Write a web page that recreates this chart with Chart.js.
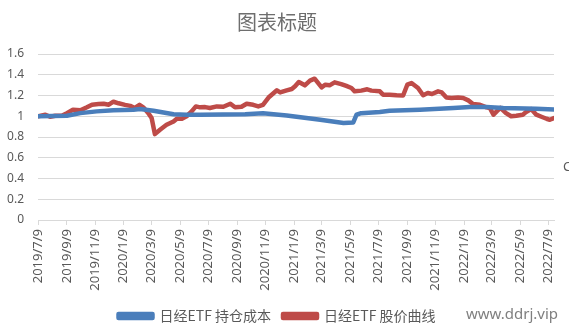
<!DOCTYPE html>
<html lang="zh">
<head>
    <meta charset="UTF-8">
    <title>图表标题</title>
    <script src="https://cdn.jsdelivr.net/npm/chart.js"></script>
    <style>
        body { margin: 0; background: #fff; }
        .wrap { width: 569px; height: 333px; position: relative; }
    </style>
</head>
<body>
    <div class="wrap"><canvas id="etfChart"></canvas></div>

    <script>
// tick labels along the date axis (every two months)
const tickDates = ['2019/7/9', '2019/9/9', '2019/11/9', '2020/1/9', '2020/3/9', '2020/5/9', '2020/7/9',
    '2020/9/9', '2020/11/9', '2021/1/9', '2021/3/9', '2021/5/9', '2021/7/9', '2021/9/9', '2021/11/9',
    '2022/1/9', '2022/3/9', '2022/5/9', '2022/7/9'];
const lastDate = '2022/7/21';

// 日经ETF 持仓成本
const costDates = ['2019/7/9', '2019/9/9', '2019/10/8', '2019/11/12', '2019/12/18', '2020/1/30', '2020/2/13',
    '2020/3/13', '2020/4/25', '2020/5/23', '2020/6/21', '2020/9/26', '2020/11/3', '2020/12/24', '2021/3/6',
    '2021/4/25', '2021/5/16', '2021/5/23', '2021/6/2', '2021/7/12', '2021/8/2', '2021/10/6', '2021/12/17',
    '2022/1/21', '2022/2/26', '2022/4/3', '2022/6/13', '2022/7/21'];
const costValues = [1.0, 1.005, 1.03, 1.047, 1.057, 1.063, 1.07, 1.053, 1.02, 1.015, 1.015, 1.02, 1.03, 1.008,
    0.966, 0.934, 0.94, 1.015, 1.03, 1.04, 1.053, 1.063, 1.08, 1.089, 1.089, 1.08, 1.073, 1.065];

// 日经ETF 股价曲线
const priceDates = ['2019/7/9', '2019/7/25', '2019/8/4', '2019/8/15', '2019/8/29', '2019/9/9', '2019/9/22',
    '2019/10/8', '2019/10/22', '2019/11/2', '2019/11/16', '2019/11/27', '2019/12/8', '2019/12/18', '2019/12/29',
    '2020/1/12', '2020/1/23', '2020/2/2', '2020/2/12', '2020/2/20', '2020/3/2', '2020/3/9', '2020/3/16',
    '2020/3/27', '2020/4/10', '2020/4/25', '2020/5/2', '2020/5/13', '2020/5/23', '2020/6/3', '2020/6/12',
    '2020/6/21', '2020/7/2', '2020/7/12', '2020/7/27', '2020/8/10', '2020/8/25', '2020/9/4', '2020/9/18',
    '2020/9/29', '2020/10/13', '2020/10/24', '2020/11/3', '2020/11/15', '2020/12/3', '2020/12/10', '2020/12/24',
    '2021/1/4', '2021/1/11', '2021/1/19', '2021/2/1', '2021/2/12', '2021/2/22', '2021/3/9', '2021/3/17',
    '2021/3/26', '2021/4/6', '2021/4/20', '2021/5/1', '2021/5/12', '2021/5/19', '2021/6/2', '2021/6/15',
    '2021/6/24', '2021/7/12', '2021/7/19', '2021/8/2', '2021/8/17', '2021/8/31', '2021/9/9', '2021/9/18',
    '2021/10/2', '2021/10/13', '2021/10/23', '2021/11/1', '2021/11/14', '2021/11/22', '2021/12/2', '2021/12/13',
    '2021/12/27', '2022/1/7', '2022/1/18', '2022/1/28', '2022/2/12', '2022/2/26', '2022/3/5', '2022/3/13',
    '2022/3/20', '2022/3/28', '2022/4/9', '2022/4/20', '2022/5/1', '2022/5/15', '2022/5/22', '2022/6/2',
    '2022/6/13', '2022/6/24', '2022/7/5', '2022/7/12', '2022/7/21'];
const priceValues = [1.00, 1.015, 0.995, 1.005, 1.005, 1.03, 1.063, 1.057, 1.086, 1.111, 1.117, 1.121, 1.111,
    1.14, 1.125,
    1.11, 1.10, 1.08, 1.11, 1.086, 1.03, 0.983, 0.828, 0.87, 0.918, 0.95, 0.976, 0.976, 1.0, 1.047, 1.095,
    1.086, 1.088, 1.08, 1.095, 1.092, 1.121, 1.086, 1.092, 1.121, 1.11, 1.095, 1.11, 1.18, 1.25, 1.23, 1.25,
    1.263, 1.289, 1.33, 1.298, 1.343, 1.362, 1.279, 1.304, 1.298, 1.327, 1.31, 1.292, 1.272, 1.24, 1.247, 1.26,
    1.247, 1.24, 1.208, 1.208, 1.202, 1.20, 1.304, 1.32, 1.272, 1.202, 1.224, 1.215, 1.24, 1.23, 1.18, 1.176, 1.18,
    1.176, 1.153, 1.118, 1.111, 1.086, 1.08, 1.015, 1.047, 1.08, 1.03, 1.0, 1.005, 1.015, 1.04, 1.07, 1.015,
    0.995, 0.976, 0.966, 0.983];

const BLUE = '#4A7EBB';
const RED = '#BE4B48';
const TEXT = '#595959';
const GRID = '#D9D9D9';

// days since the first tick date
function dayOf(s) {
    const p = s.split('/').map(Number);
    const p0 = tickDates[0].split('/').map(Number);
    return (Date.UTC(p[0], p[1] - 1, p[2]) - Date.UTC(p0[0], p0[1] - 1, p0[2])) / 86400000;
}

function toPoints(dates, values) {
    return dates.map((d, i) => ({ x: dayOf(d), y: values[i] }));
}

Chart.defaults.font.family = '"Noto Sans", "Noto Sans CJK SC", sans-serif';
Chart.defaults.color = TEXT;

const watermark = {
    id: 'watermark',
    afterDraw(chart) {
        const ctx = chart.ctx;
        ctx.save();
        ctx.fillStyle = '#7F7F7F';
        ctx.font = '15px "Noto Sans", sans-serif';
        ctx.textAlign = 'center';
        ctx.textBaseline = 'middle';
        ctx.fillText('www.ddrj.vip', 512, 315);
        ctx.fillStyle = TEXT;
        ctx.font = '13px "Noto Sans", sans-serif';
        ctx.textAlign = 'left';
        ctx.fillText('C', 563, 167);
        ctx.restore();
    }
};

new Chart(document.getElementById('etfChart'), {
    type: 'line',
    data: {
        datasets: [{
            label: '日经ETF 持仓成本',
            data: toPoints(costDates, costValues),
            borderColor: BLUE,
            backgroundColor: BLUE,
            borderWidth: 4.5,
            pointRadius: 0,
            borderJoinStyle: 'round',
            borderCapStyle: 'round',
            tension: 0
        }, {
            label: '日经ETF 股价曲线',
            data: toPoints(priceDates, priceValues),
            borderColor: RED,
            backgroundColor: RED,
            borderWidth: 4.5,
            pointRadius: 0,
            borderJoinStyle: 'round',
            borderCapStyle: 'round',
            tension: 0
        }]
    },
    options: {
        responsive: true,
        maintainAspectRatio: false,
        animation: false,
        layout: { padding: { left: 0, right: 15, top: 0, bottom: 0 } },
        plugins: {
            title: {
                display: true,
                text: '图表标题',
                color: '#6E6E6E',
                font: { size: 20, weight: 'normal', family: '"Noto Sans CJK SC", sans-serif' },
                padding: { top: 10, bottom: 20 }
            },
            legend: {
                position: 'bottom',
                labels: {
                    boxWidth: 34,
                    boxHeight: 4,
                    padding: 12,
                    color: TEXT,
                    font: { size: 14, family: '"Noto Sans CJK SC", sans-serif' }
                }
            },
            tooltip: { enabled: false }
        },
        scales: {
            x: {
                type: 'linear',
                min: 0,
                max: dayOf(lastDate),
                afterBuildTicks(scale) {
                    scale.ticks = tickDates.map(d => ({ value: dayOf(d) }));
                },
                afterFit(scale) { scale.height = 77; },
                ticks: {
                    autoSkip: false,
                    minRotation: 90,
                    maxRotation: 90,
                    padding: 4,
                    color: TEXT,
                    font: { size: 13 },
                    callback: (v, i) => tickDates[i]
                },
                grid: { drawOnChartArea: false, drawTicks: true, tickLength: 5, color: GRID },
                border: { color: GRID }
            },
            y: {
                min: 0,
                max: 1.6,
                afterFit(scale) { scale.width = 38; },
                ticks: {
                    stepSize: 0.2,
                    padding: 14,
                    color: TEXT,
                    font: { size: 12 },
                    callback: v => String(+v.toFixed(1))
                },
                grid: { color: GRID, drawTicks: false },
                border: { display: false }
            }
        }
    },
    plugins: [watermark]
});
    </script>
</body>
</html>
